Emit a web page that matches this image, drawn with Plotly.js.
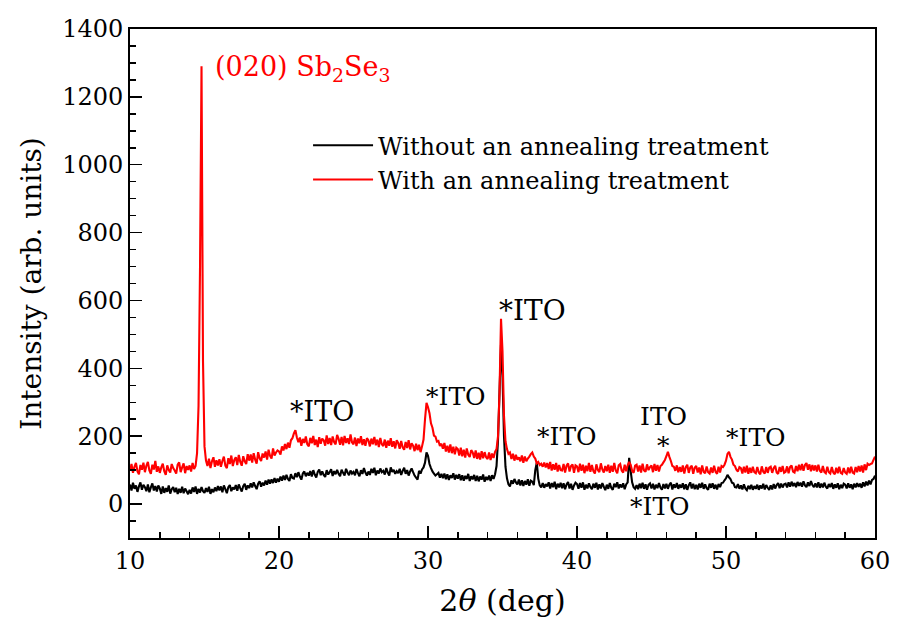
<!DOCTYPE html>
<html>
<head>
<meta charset="utf-8">
<script src="https://cdn.plot.ly/plotly-3.0.1.min.js"></script>
<style>html,body{margin:0;padding:0;background:#fff;}#chart{width:901px;height:634px;}</style>
</head>
<body>
<div id="chart"></div>
<script>
// 2θ scan grid: start and step (degrees)
const scanStart = 10;
const scanStep = 0.1;

// Intensity without annealing (black), one row per degree, 10.0 .. 60.0
const withoutAnneal = [
58,40,63,45,55,36,52,64,42,57,
50,38,58,35,49,61,40,53,37,55,
46,30,52,33,47,36,55,31,44,50,
35,48,30,45,33,51,32,46,38,29,
42,31,49,36,52,30,45,34,50,38,
33,47,36,51,30,44,35,49,38,53,
40,52,35,55,44,32,50,56,38,49,
43,56,39,58,47,37,53,60,42,55,
47,61,49,64,53,44,60,67,51,63,
55,69,57,72,60,73,62,77,63,75,
66,81,69,84,71,86,74,68,88,77,
75,91,79,94,81,72,90,96,82,92,
84,97,81,100,87,78,95,102,85,96,
86,80,100,87,94,103,83,97,88,101,
89,82,101,92,84,104,93,85,99,90,
95,85,103,91,82,100,89,106,93,84,
96,86,104,92,107,85,99,90,105,94,
98,87,106,93,84,108,95,101,89,97,
91,104,86,98,107,89,100,84,96,105,
94,84,78,72,98,90,102,108,122,152,
142,118,106,96,90,84,88,92,78,89,
76,90,73,88,71,85,77,91,72,86,
75,88,70,85,69,83,74,89,68,82,
73,86,68,83,67,81,72,87,66,80,
71,84,68,85,74,88,112,190,330,470,
380,200,110,76,58,52,70,60,74,64,
58,72,55,70,53,68,57,73,54,69,
66,56,100,122,75,55,49,62,48,59,
52,64,46,62,50,66,44,60,49,63,
47,61,44,58,65,46,60,42,55,63,
59,45,62,48,64,42,57,46,61,50,
44,60,48,63,43,58,46,62,51,41,
57,45,62,48,42,60,50,64,46,58,
49,61,44,58,64,136,98,64,50,45,
56,44,60,47,63,45,58,42,57,61,
46,60,43,57,47,62,49,42,59,46,
60,45,57,63,43,58,48,62,45,57,
48,61,44,58,42,55,64,46,60,44,
57,43,60,48,63,45,58,47,42,60,
48,61,45,57,43,59,50,62,63,70,
76,86,79,74,63,61,50,49,59,45,
55,43,58,46,41,54,44,57,42,53,
45,57,42,55,46,60,43,56,48,42,
55,43,59,46,56,62,47,60,49,58,
60,49,64,51,66,53,62,50,65,54,
63,51,67,55,50,64,53,68,56,50,
61,49,64,48,60,49,63,51,46,59,
50,62,45,58,48,61,44,57,47,60,
57,46,61,48,58,44,60,49,62,51,
60,48,64,52,66,55,69,58,71,74,
84
];

// Intensity with annealing (red), one row per degree, 10.0 .. 60.0
const withAnneal = [
98,118,92,110,121,96,88,115,101,122,
94,113,124,99,89,116,102,127,95,111,
92,108,119,97,86,114,100,93,118,106,
99,90,116,123,94,108,120,91,112,101,
114,96,121,103,112,150,290,700,1290,420,
170,128,112,134,106,126,138,110,129,114,
132,110,127,140,113,106,135,118,143,112,
130,138,115,145,124,113,141,126,118,147,
128,146,122,150,131,119,153,135,127,149,
137,155,131,160,142,134,164,143,152,158,
155,146,170,158,177,162,181,166,188,194,
208,218,196,182,196,172,192,180,199,176,
170,195,179,201,174,190,168,197,178,193,
188,172,202,177,195,174,199,183,176,204,
192,175,198,173,201,180,194,177,205,182,
176,196,171,193,179,200,174,191,172,194,
188,170,193,176,198,173,190,168,195,176,
171,190,166,187,172,194,169,185,164,188,
180,163,186,167,160,183,165,188,161,179,
172,156,178,159,175,153,170,190,250,298,
285,268,238,225,202,199,184,186,171,178,
163,180,155,172,152,176,150,169,147,166,
162,143,166,141,160,137,164,145,139,159,
152,136,158,133,151,131,156,135,153,138,
133,152,130,149,136,154,162,200,330,546,
450,260,185,162,148,152,133,148,128,145,
131,138,126,143,122,140,126,134,140,147,
152,140,134,120,124,115,119,110,122,108,
121,103,124,99,117,101,121,96,115,100,
99,118,93,113,120,96,112,117,92,114,
111,94,119,98,116,91,113,97,121,95,
115,97,90,117,100,94,120,102,93,112,
97,116,92,113,95,121,99,91,114,118,
99,93,116,97,114,124,116,98,92,113,
116,96,114,93,119,99,95,117,100,109,
114,94,118,98,115,96,112,116,123,130,
141,154,139,127,112,110,98,114,94,109,
95,114,90,109,116,92,108,113,89,107,
112,93,108,88,114,95,91,111,94,90,
108,92,113,95,89,110,93,112,109,116,
128,148,154,139,131,116,112,101,96,109,
106,90,110,93,113,89,107,92,110,94,
91,109,93,88,111,95,90,109,92,107,
110,92,106,113,93,89,109,95,112,92,
95,111,91,109,114,96,93,112,97,116,
100,118,98,115,121,101,117,97,115,99,
114,96,116,98,93,112,95,91,110,94,
90,109,93,88,107,91,110,92,89,106,
93,89,108,91,110,93,90,109,94,112,
96,114,93,117,100,119,115,118,120,130,
140
];

const seriesNames = ["Without an annealing treatment", "With an annealing treatment"];
const seriesColors = ["#000000", "#ff0000"];

// Peak labels: text, x (deg), y (intensity)
const labelTexts = ["*ITO", "*ITO", "*ITO", "*ITO", "ITO", "*", "*ITO", "*ITO"];
const labelX =     [22.9,   31.9,   37.0,   39.3,   45.8,  45.8, 52.0,   45.6];
const labelY =     [272,    318,    570,    198,    257,   172,  196,    -6];
const labelSize =  [27,     25,     28,     25,     25,    25,   25,     25];

const FONT = "DejaVu Serif";

const traces = [withoutAnneal, withAnneal].map((vals, i) => ({
  type: "scatter",
  mode: "lines",
  x0: scanStart,
  dx: scanStep,
  y: vals,
  name: seriesNames[i],
  line: {color: seriesColors[i], width: 2.1, simplify: false}
}));

const annotations = labelTexts.map((t, i) => ({
  text: t, x: labelX[i], y: labelY[i], xref: "x", yref: "y",
  showarrow: false, font: {family: FONT, size: labelSize[i], color: "#000"}
}));
annotations.push({
  text: "(020) Sb<sub>2</sub>Se<sub>3</sub>", x: 15.6, y: 1285, xref: "x", yref: "y",
  xanchor: "left", showarrow: false, font: {family: FONT, size: 27, color: "#ff0000"}
});

const layout = {
  width: 901, height: 634,
  margin: {l: 130, r: 26, t: 29, b: 96},
  paper_bgcolor: "#fff", plot_bgcolor: "#fff",
  font: {family: FONT, color: "#000", size: 23},
  showlegend: true,
  legend: {x: 0.239, y: 0.815, xanchor: "left", yanchor: "top", itemwidth: 60,
           bgcolor: "rgba(0,0,0,0)", font: {family: FONT, size: 24}, tracegroupgap: 0},
  xaxis: {
    range: [10, 60], dtick: 10, tick0: 10,
    ticks: "inside", ticklen: 12, tickwidth: 1.5, tickcolor: "#000",
    minor: {dtick: 2, ticks: "inside", ticklen: 6, tickwidth: 1.5, tickcolor: "#000"},
    showline: true, mirror: true, linewidth: 1.8, linecolor: "#000",
    showgrid: false, zeroline: false,
    tickfont: {family: FONT, size: 24},
    title: {text: "2<i>θ</i> (deg)", font: {family: FONT, size: 30}, standoff: 16}
  },
  yaxis: {
    range: [-100, 1400], dtick: 200, tick0: 0,
    ticks: "inside", ticklen: 12, tickwidth: 1.5, tickcolor: "#000",
    minor: {dtick: 50, ticks: "inside", ticklen: 6, tickwidth: 1.5, tickcolor: "#000"},
    showline: true, mirror: true, linewidth: 1.8, linecolor: "#000",
    showgrid: false, zeroline: false,
    tickfont: {family: FONT, size: 24},
    title: {text: "Intensity (arb. units)", font: {family: FONT, size: 28}, standoff: 12}
  },
  annotations: annotations
};

Plotly.newPlot("chart", traces, layout, {displayModeBar: false, staticPlot: true});
</script>
</body>
</html>
